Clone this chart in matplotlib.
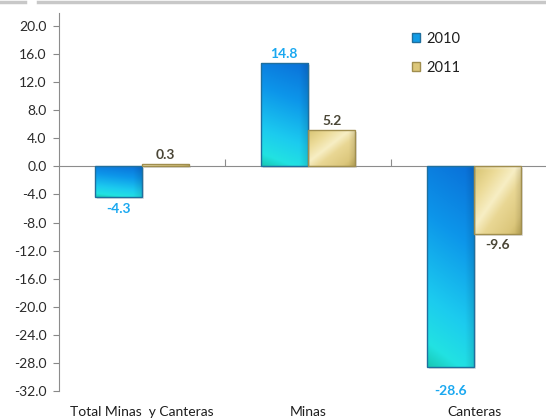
import numpy as np
import matplotlib
matplotlib.use("Agg")
import matplotlib.pyplot as plt
from matplotlib.colors import LinearSegmentedColormap
from matplotlib.patches import Patch
from matplotlib.lines import Line2D
import matplotlib.transforms as mtransforms

plt.rcParams['font.family'] = ['Lato', 'DejaVu Sans']

categories = ["Total Minas  y Canteras", "Minas", "Canteras"]
series_names = ["2010", "2011"]
values_2010 = [-4.3, 14.8, -28.6]
values_2011 = [0.3, 5.2, -9.6]
yticks = [20.0, 16.0, 12.0, 8.0, 4.0, 0.0, -4.0, -8.0, -12.0, -16.0, -20.0, -24.0, -28.0, -32.0]

W, H = 546, 420
fig = plt.figure(figsize=(W / 100, H / 100), dpi=100)
left_px, right_px, top_px, bot_px = 59, 557, 13, 391
ax = fig.add_axes([left_px / W, (H - bot_px) / H, (right_px - left_px) / W, (bot_px - top_px) / H])

# frame hint at top of image
fig.add_artist(Line2D([0, 25 / W], [1 - 1.5 / H] * 2, color="#c8c8c8", lw=2.5, transform=fig.transFigure))
fig.add_artist(Line2D([38 / W, 1], [1 - 1.5 / H] * 2, color="#c8c8c8", lw=2.5, transform=fig.transFigure))

x = np.arange(len(categories))
bw = 0.286

blue_cmap = LinearSegmentedColormap.from_list(
    "b", [(0.0, "#0a6fd8"), (0.35, "#0d96ea"), (0.7, "#1ccbef"), (0.9, "#22e2e2"), (1.0, "#18c8b4")])
gold_cmap = LinearSegmentedColormap.from_list(
    "g", [(0.0, "#d6c270"), (0.25, "#ecdb98"), (0.45, "#f7eec4"), (0.6, "#e9d794"), (0.85, "#dcc77c"), (1.0, "#c4ae5c")])

def grad_blue(n=100):
    v = np.linspace(0, 1, n)[:, None]
    u = np.linspace(0, 1, n)[None, :]
    t = 0.85 * v + 0.15 * (1 - u)
    img = blue_cmap(t)
    img[..., :3] *= (1 - 0.12 * np.clip((u - 0.8) / 0.2, 0, 1))[..., None]
    return img

def grad_gold(n=100):
    v = np.linspace(0, 1, n)[:, None]
    u = np.linspace(0, 1, n)[None, :]
    t = np.clip(0.5 * u + 0.5 * v, 0, 1)
    img = gold_cmap(t)
    img[..., :3] *= (1 - 0.12 * np.clip((u - 0.85) / 0.15, 0, 1))[..., None]
    top = np.clip(1 - v / 0.06, 0, 1)
    img[..., :3] = img[..., :3] * (1 - 0.35 * top[..., None]) + 0.35 * top[..., None]
    return img

def draw_series(xs, vals, gradfn, edge):
    bars = ax.bar(xs, vals, bw, facecolor="none", edgecolor=edge, linewidth=1.0, zorder=3)
    for rect in bars:
        bx, by, bwid, bh = rect.get_x(), rect.get_y(), rect.get_width(), rect.get_height()
        y0, y1 = min(by, by + bh), max(by, by + bh)
        sh = matplotlib.patches.Rectangle((bx, y0), bwid, y1 - y0, facecolor="#000000", alpha=0.12,
                                          edgecolor="none", zorder=1.5,
                                          transform=ax.transData + mtransforms.ScaledTranslation(2 / 100, -2 / 100, fig.dpi_scale_trans))
        ax.add_patch(sh)
        im = ax.imshow(gradfn(), extent=[bx, bx + bwid, y0, y1], origin="upper", aspect="auto",
                       zorder=2, interpolation="bilinear")
        im.set_clip_path(rect)
    return bars

b1 = draw_series(x - bw / 2, values_2010, grad_blue, "#1f6f9e")
b2 = draw_series(x + bw / 2, values_2011, grad_gold, "#a08e4e")

ax.set_xlim(-0.5, 2.5)
ax.set_ylim(-32, 21.86)
ax.set_yticks(yticks)
ax.set_yticklabels([f"{v:.1f}" for v in yticks])
ax.tick_params(axis="y", direction="out", length=4, width=0.8, color="#888888",
               labelsize=10, labelcolor="#2a2a2a", pad=5)

for s in ["top", "right"]:
    ax.spines[s].set_visible(False)
ax.spines["left"].set_color("#8c8c8c")
ax.spines["bottom"].set_color("#8c8c8c")
ax.spines["bottom"].set_position(("data", 0))
ax.set_xticks(x + 0.5)
ax.set_xticklabels([])
ax.tick_params(axis="x", direction="in", length=5, width=0.8, color="#8c8c8c")

# category labels at bottom
trans = mtransforms.blended_transform_factory(ax.transData, fig.transFigure)
for xi, c in zip(x, categories):
    ax.text(xi, 1 - 412 / H, c, transform=trans, ha="center", va="center",
            fontsize=10, color="#1e1e1e", clip_on=False)

# data labels
lab_off_2010 = [12, 9, 24]
lab_off_2011 = [9, 9, 11]
for xs, vals, col, offs in [(x - bw / 2, values_2010, "#1aa8f0", lab_off_2010),
                            (x + bw / 2, values_2011, "#4a4636", lab_off_2011)]:
    for xi, v, o in zip(xs, vals, offs):
        sign = 1 if v >= 0 else -1
        ax.annotate(f"{v:.1f}", (xi, v), xytext=(0, sign * o * 0.72), textcoords="offset points",
                    ha="center", va="center", fontsize=10, fontweight="bold", color=col, zorder=5)

handles = [Patch(facecolor="#129ce6", edgecolor="#1f6f9e"), Patch(facecolor="#dcc77a", edgecolor="#a08e4e")]
leg = ax.legend(handles, series_names, loc="upper left",
                bbox_to_anchor=((412 - left_px) / (right_px - left_px), 1 - (32 - top_px) / (bot_px - top_px)),
                frameon=False, fontsize=10.5, handlelength=0.55, handleheight=0.55, handletextpad=0.45,
                labelspacing=1.0, borderaxespad=0, borderpad=0)
for t in leg.get_texts():
    t.set_color("#1e1e1e")

fig.savefig("out.png", dpi=100)
